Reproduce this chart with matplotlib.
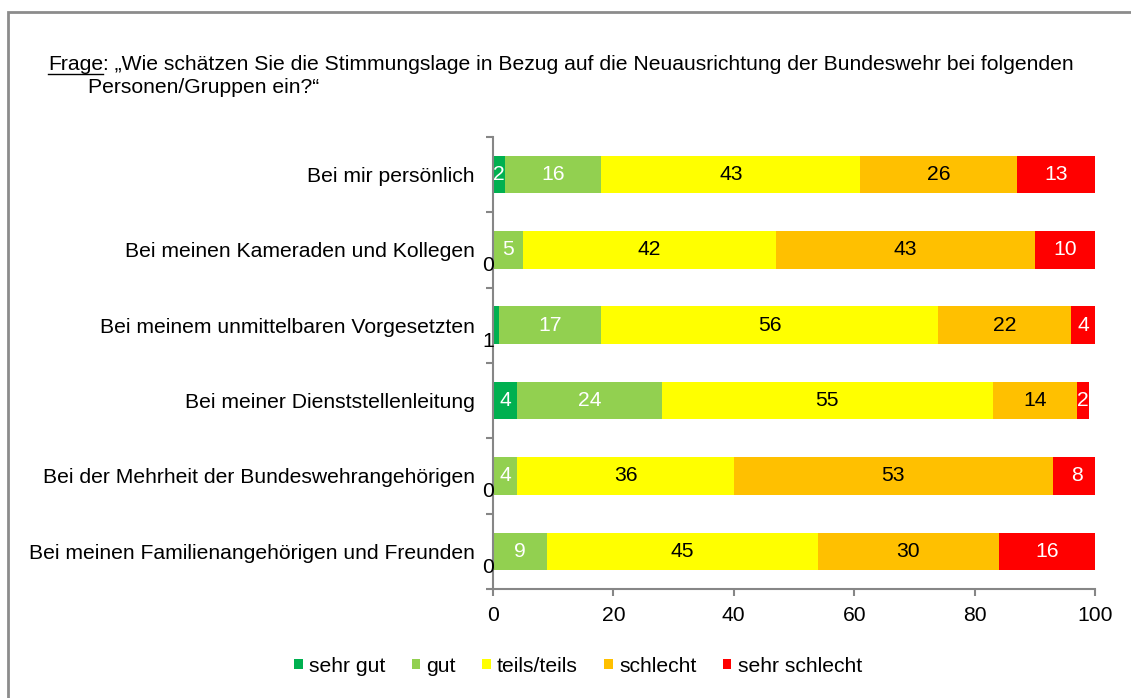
import numpy as np
import matplotlib
matplotlib.use('Agg')
from matplotlib import pyplot as plt
from matplotlib.patches import Rectangle
from matplotlib.lines import Line2D

plt.rcParams['font.family'] = ['Liberation Sans', 'DejaVu Sans']

categories = ['Bei mir persönlich',
              'Bei meinen Kameraden und Kollegen',
              'Bei meinem unmittelbaren Vorgesetzten',
              'Bei meiner Dienststellenleitung',
              'Bei der Mehrheit der Bundeswehrangehörigen',
              'Bei meinen Familienangehörigen und Freunden']
series_names = ['sehr gut', 'gut', 'teils/teils', 'schlecht', 'sehr schlecht']
sehr_gut = [2, 0, 1, 4, 0, 0]
gut = [16, 5, 17, 24, 4, 9]
teils = [43, 42, 56, 55, 36, 45]
schlecht = [26, 43, 22, 14, 53, 30]
sehr_schlecht = [13, 10, 4, 2, 8, 16]

colors = ['#00B050', '#92D050', '#FFFF00', '#FFC000', '#FF0000']
text_colors = ['white', 'white', 'black', 'black', 'white']

fig = plt.figure(figsize=(11.31, 6.98), dpi=100)
W, H = 1131, 698
ax = fig.add_axes([493 / W, 1 - 589 / H, (1095 - 493) / W, (589 - 137) / H])

y = np.arange(len(categories))
left = np.zeros(len(categories))
fs = 15.2
for vals, name, col, tcol in zip([sehr_gut, gut, teils, schlecht, sehr_schlecht],
                                 series_names, colors, text_colors):
    vals = np.array(vals, dtype=float)
    ax.barh(y, vals, left=left, height=0.5, color=col, label=name)
    for yi, v, l in zip(y, vals, left):
        if v >= 2:
            ax.text(l + v / 2, yi, f'{v:g}', ha='center', va='center',
                    color=tcol, fontsize=fs)
        else:
            # tiny segments: label sits left of the axis, a bit lower
            ax.annotate(f'{v:g}', (0, yi), xytext=(-5, -16),
                        textcoords='offset pixels', ha='center',
                        va='center', fontsize=fs, color='black',
                        annotation_clip=False)
    left += vals

ax.set_xlim(0, 100)
ax.set_ylim(len(categories) - 0.5, -0.5)
ax.set_xticks(range(0, 101, 20))
ax.set_yticks(np.arange(len(categories) + 1) - 0.5)
ax.set_yticklabels([])
ax.set_yticks(y, minor=True)
ax.set_yticklabels(categories, minor=True, fontsize=fs)
ax.tick_params(axis='y', which='minor', length=0, pad=13)
ax.tick_params(axis='y', which='major', length=5, color='#868686', width=1.5)
ax.tick_params(axis='x', length=5, color='#868686', width=1.5,
               labelsize=fs, pad=7)
for s in ['top', 'right']:
    ax.spines[s].set_visible(False)
for s in ['left', 'bottom']:
    ax.spines[s].set_color('#868686')
    ax.spines[s].set_linewidth(1.5)

# chart area border
fig.add_artist(Rectangle((7.5 / W, -0.1), 1.2, 1 - 12 / H + 0.1,
                         transform=fig.transFigure, fill=False,
                         edgecolor='#8c8c8c', linewidth=2))

# question text with underlined "Frage"
t1 = fig.text(48 / W, 1 - 70 / H, 'Frage', fontsize=fs, va='baseline')
fig.canvas.draw()
bb = t1.get_window_extent()
fig.add_artist(Line2D([bb.x0 / W, bb.x1 / W], [1 - 74 / H] * 2,
                      transform=fig.transFigure, color='black', linewidth=1))
fig.text(bb.x1 / W, 1 - 70 / H,
         ': \u201eWie schätzen Sie die Stimmungslage in Bezug auf die '
         'Neuausrichtung der Bundeswehr bei folgenden',
         fontsize=fs, va='baseline')
fig.text(88 / W, 1 - 93 / H, 'Personen/Gruppen ein?\u201c', fontsize=fs,
         va='baseline')

fig.legend(loc='center', bbox_to_anchor=(578 / W, 1 - 666 / H), ncol=5,
           frameon=False, fontsize=fs, handlelength=0.4, handleheight=0.4,
           handletextpad=0.3, columnspacing=1.25)

fig.savefig('out.png', dpi=100)
